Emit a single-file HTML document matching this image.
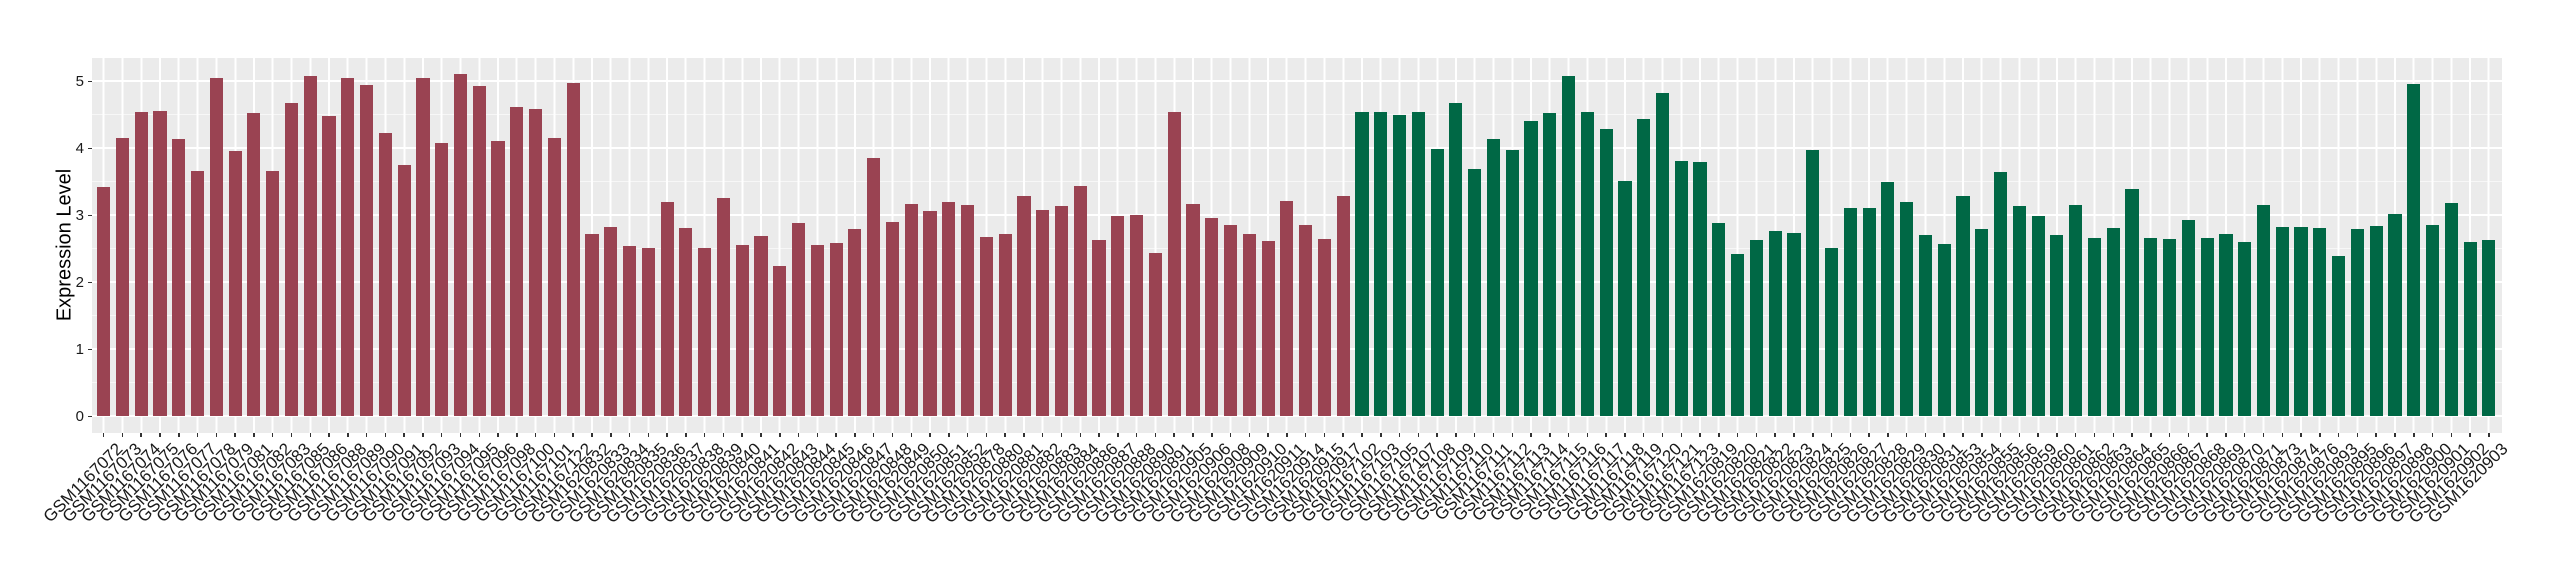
<!DOCTYPE html>
<html><head><meta charset="utf-8"><style>
*{margin:0;padding:0;box-sizing:border-box}
body{width:2560px;height:580px;background:#fff;position:relative;overflow:hidden;font-family:"Liberation Sans",sans-serif}
#panel{position:absolute;left:92.4px;top:58px;width:2409.6px;height:375px;background:#EBEBEB;overflow:hidden}
.hM{position:absolute;left:0;right:0;height:2px;background:#fff}
.hm{position:absolute;left:0;right:0;height:1px;background:#F7F7F7}
#bars{position:absolute;left:1.88px;top:0;bottom:0;display:flex}
.c{flex:none;width:18.796px;height:100%;display:flex;align-items:flex-end;justify-content:center;padding-bottom:16.6px;
background:linear-gradient(to right,transparent calc(50% - 1px),#fff calc(50% - 1px),#fff calc(50% + 1px),transparent calc(50% + 1px))}
.c i{display:block;width:13.16px;height:calc(var(--v) * 67px)}
.r i{background:#9A4352}
.g i{background:#006845}
#labs{position:absolute;left:94.28px;top:433px;display:flex}
.l{flex:none;width:18.796px;height:10px;position:relative}
.l::before{content:"";position:absolute;left:calc(50% - 0.75px);top:0;width:1.5px;height:4px;background:#333}
.l span{position:absolute;right:calc(50% - 10px);top:7px;font-size:17px;line-height:1;white-space:nowrap;color:#1a1a1a;transform-origin:right top;transform:rotate(-45deg)}
.yt{position:absolute;right:2476px;font-size:15px;line-height:1;color:#1a1a1a}
.ytk{position:absolute;left:88.4px;width:4px;height:1.5px;background:#333}
#ytitle{position:absolute;left:65px;top:245px;font-size:20px;transform:translate(-50%,-50%) rotate(-90deg);white-space:nowrap;color:#000}
</style></head><body>
<div id="panel">
<div class="hm" style="top:324.4px"></div>
<div class="hm" style="top:257.4px"></div>
<div class="hm" style="top:190.4px"></div>
<div class="hm" style="top:123.4px"></div>
<div class="hm" style="top:56.4px"></div>
<div class="hM" style="top:357.4px"></div>
<div class="hM" style="top:290.4px"></div>
<div class="hM" style="top:223.4px"></div>
<div class="hM" style="top:156.4px"></div>
<div class="hM" style="top:89.4px"></div>
<div class="hM" style="top:22.4px"></div>
<div id="bars">
<div class="c r" style="--v:3.42"><i></i></div><div class="c r" style="--v:4.15"><i></i></div><div class="c r" style="--v:4.54"><i></i></div><div class="c r" style="--v:4.56"><i></i></div><div class="c r" style="--v:4.14"><i></i></div><div class="c r" style="--v:3.66"><i></i></div><div class="c r" style="--v:5.05"><i></i></div><div class="c r" style="--v:3.96"><i></i></div><div class="c r" style="--v:4.53"><i></i></div><div class="c r" style="--v:3.67"><i></i></div><div class="c r" style="--v:4.68"><i></i></div><div class="c r" style="--v:5.08"><i></i></div><div class="c r" style="--v:4.48"><i></i></div><div class="c r" style="--v:5.05"><i></i></div><div class="c r" style="--v:4.94"><i></i></div><div class="c r" style="--v:4.23"><i></i></div><div class="c r" style="--v:3.75"><i></i></div><div class="c r" style="--v:5.05"><i></i></div><div class="c r" style="--v:4.08"><i></i></div><div class="c r" style="--v:5.11"><i></i></div><div class="c r" style="--v:4.93"><i></i></div><div class="c r" style="--v:4.11"><i></i></div><div class="c r" style="--v:4.62"><i></i></div><div class="c r" style="--v:4.59"><i></i></div><div class="c r" style="--v:4.15"><i></i></div><div class="c r" style="--v:4.98"><i></i></div>
<div class="c r" style="--v:2.72"><i></i></div><div class="c r" style="--v:2.82"><i></i></div><div class="c r" style="--v:2.55"><i></i></div><div class="c r" style="--v:2.52"><i></i></div><div class="c r" style="--v:3.20"><i></i></div><div class="c r" style="--v:2.81"><i></i></div><div class="c r" style="--v:2.51"><i></i></div><div class="c r" style="--v:3.26"><i></i></div><div class="c r" style="--v:2.56"><i></i></div><div class="c r" style="--v:2.69"><i></i></div><div class="c r" style="--v:2.24"><i></i></div><div class="c r" style="--v:2.89"><i></i></div><div class="c r" style="--v:2.56"><i></i></div><div class="c r" style="--v:2.59"><i></i></div><div class="c r" style="--v:2.80"><i></i></div><div class="c r" style="--v:3.86"><i></i></div><div class="c r" style="--v:2.90"><i></i></div><div class="c r" style="--v:3.17"><i></i></div><div class="c r" style="--v:3.07"><i></i></div><div class="c r" style="--v:3.20"><i></i></div><div class="c r" style="--v:3.16"><i></i></div>
<div class="c r" style="--v:2.68"><i></i></div><div class="c r" style="--v:2.72"><i></i></div><div class="c r" style="--v:3.29"><i></i></div><div class="c r" style="--v:3.08"><i></i></div><div class="c r" style="--v:3.14"><i></i></div><div class="c r" style="--v:3.44"><i></i></div>
<div class="c r" style="--v:2.63"><i></i></div><div class="c r" style="--v:2.99"><i></i></div><div class="c r" style="--v:3.01"><i></i></div><div class="c r" style="--v:2.44"><i></i></div><div class="c r" style="--v:4.55"><i></i></div>
<div class="c r" style="--v:3.17"><i></i></div><div class="c r" style="--v:2.96"><i></i></div><div class="c r" style="--v:2.86"><i></i></div><div class="c r" style="--v:2.72"><i></i></div><div class="c r" style="--v:2.62"><i></i></div><div class="c r" style="--v:3.22"><i></i></div><div class="c r" style="--v:2.86"><i></i></div><div class="c r" style="--v:2.65"><i></i></div><div class="c r" style="--v:3.29"><i></i></div>
<div class="c g" style="--v:4.55"><i></i></div><div class="c g" style="--v:4.55"><i></i></div><div class="c g" style="--v:4.50"><i></i></div><div class="c g" style="--v:4.55"><i></i></div><div class="c g" style="--v:3.99"><i></i></div><div class="c g" style="--v:4.68"><i></i></div><div class="c g" style="--v:3.69"><i></i></div><div class="c g" style="--v:4.14"><i></i></div><div class="c g" style="--v:3.98"><i></i></div><div class="c g" style="--v:4.41"><i></i></div><div class="c g" style="--v:4.53"><i></i></div><div class="c g" style="--v:5.08"><i></i></div><div class="c g" style="--v:4.55"><i></i></div><div class="c g" style="--v:4.29"><i></i></div><div class="c g" style="--v:3.51"><i></i></div><div class="c g" style="--v:4.44"><i></i></div><div class="c g" style="--v:4.82"><i></i></div><div class="c g" style="--v:3.81"><i></i></div><div class="c g" style="--v:3.80"><i></i></div>
<div class="c g" style="--v:2.89"><i></i></div><div class="c g" style="--v:2.42"><i></i></div><div class="c g" style="--v:2.63"><i></i></div><div class="c g" style="--v:2.77"><i></i></div><div class="c g" style="--v:2.74"><i></i></div><div class="c g" style="--v:3.98"><i></i></div><div class="c g" style="--v:2.51"><i></i></div><div class="c g" style="--v:3.11"><i></i></div><div class="c g" style="--v:3.11"><i></i></div><div class="c g" style="--v:3.50"><i></i></div><div class="c g" style="--v:3.20"><i></i></div><div class="c g" style="--v:2.71"><i></i></div><div class="c g" style="--v:2.57"><i></i></div>
<div class="c g" style="--v:3.29"><i></i></div><div class="c g" style="--v:2.80"><i></i></div><div class="c g" style="--v:3.65"><i></i></div><div class="c g" style="--v:3.14"><i></i></div>
<div class="c g" style="--v:2.99"><i></i></div><div class="c g" style="--v:2.71"><i></i></div><div class="c g" style="--v:3.15"><i></i></div><div class="c g" style="--v:2.67"><i></i></div><div class="c g" style="--v:2.81"><i></i></div><div class="c g" style="--v:3.39"><i></i></div><div class="c g" style="--v:2.67"><i></i></div><div class="c g" style="--v:2.65"><i></i></div><div class="c g" style="--v:2.93"><i></i></div><div class="c g" style="--v:2.66"><i></i></div><div class="c g" style="--v:2.72"><i></i></div><div class="c g" style="--v:2.61"><i></i></div><div class="c g" style="--v:3.15"><i></i></div>
<div class="c g" style="--v:2.82"><i></i></div><div class="c g" style="--v:2.82"><i></i></div><div class="c g" style="--v:2.81"><i></i></div>
<div class="c g" style="--v:2.39"><i></i></div><div class="c g" style="--v:2.80"><i></i></div><div class="c g" style="--v:2.84"><i></i></div><div class="c g" style="--v:3.02"><i></i></div><div class="c g" style="--v:4.96"><i></i></div>
<div class="c g" style="--v:2.86"><i></i></div><div class="c g" style="--v:3.18"><i></i></div><div class="c g" style="--v:2.61"><i></i></div><div class="c g" style="--v:2.63"><i></i></div>
</div>
</div>
<div id="labs">
<div class="l"><span>GSM1167072</span></div><div class="l"><span>GSM1167073</span></div><div class="l"><span>GSM1167074</span></div><div class="l"><span>GSM1167075</span></div><div class="l"><span>GSM1167076</span></div><div class="l"><span>GSM1167077</span></div><div class="l"><span>GSM1167078</span></div><div class="l"><span>GSM1167079</span></div><div class="l"><span>GSM1167081</span></div><div class="l"><span>GSM1167082</span></div><div class="l"><span>GSM1167083</span></div><div class="l"><span>GSM1167085</span></div><div class="l"><span>GSM1167086</span></div><div class="l"><span>GSM1167088</span></div><div class="l"><span>GSM1167089</span></div><div class="l"><span>GSM1167090</span></div><div class="l"><span>GSM1167091</span></div><div class="l"><span>GSM1167092</span></div><div class="l"><span>GSM1167093</span></div><div class="l"><span>GSM1167094</span></div><div class="l"><span>GSM1167095</span></div><div class="l"><span>GSM1167096</span></div><div class="l"><span>GSM1167098</span></div><div class="l"><span>GSM1167100</span></div><div class="l"><span>GSM1167101</span></div><div class="l"><span>GSM1167122</span></div>
<div class="l"><span>GSM1620832</span></div><div class="l"><span>GSM1620833</span></div><div class="l"><span>GSM1620834</span></div><div class="l"><span>GSM1620835</span></div><div class="l"><span>GSM1620836</span></div><div class="l"><span>GSM1620837</span></div><div class="l"><span>GSM1620838</span></div><div class="l"><span>GSM1620839</span></div><div class="l"><span>GSM1620840</span></div><div class="l"><span>GSM1620841</span></div><div class="l"><span>GSM1620842</span></div><div class="l"><span>GSM1620843</span></div><div class="l"><span>GSM1620844</span></div><div class="l"><span>GSM1620845</span></div><div class="l"><span>GSM1620846</span></div><div class="l"><span>GSM1620847</span></div><div class="l"><span>GSM1620848</span></div><div class="l"><span>GSM1620849</span></div><div class="l"><span>GSM1620850</span></div><div class="l"><span>GSM1620851</span></div><div class="l"><span>GSM1620852</span></div>
<div class="l"><span>GSM1620878</span></div><div class="l"><span>GSM1620880</span></div><div class="l"><span>GSM1620881</span></div><div class="l"><span>GSM1620882</span></div><div class="l"><span>GSM1620883</span></div><div class="l"><span>GSM1620884</span></div>
<div class="l"><span>GSM1620886</span></div><div class="l"><span>GSM1620887</span></div><div class="l"><span>GSM1620888</span></div><div class="l"><span>GSM1620890</span></div><div class="l"><span>GSM1620891</span></div>
<div class="l"><span>GSM1620905</span></div><div class="l"><span>GSM1620906</span></div><div class="l"><span>GSM1620908</span></div><div class="l"><span>GSM1620909</span></div><div class="l"><span>GSM1620910</span></div><div class="l"><span>GSM1620911</span></div><div class="l"><span>GSM1620914</span></div><div class="l"><span>GSM1620915</span></div><div class="l"><span>GSM1620917</span></div>
<div class="l"><span>GSM1167102</span></div><div class="l"><span>GSM1167103</span></div><div class="l"><span>GSM1167105</span></div><div class="l"><span>GSM1167107</span></div><div class="l"><span>GSM1167108</span></div><div class="l"><span>GSM1167109</span></div><div class="l"><span>GSM1167110</span></div><div class="l"><span>GSM1167111</span></div><div class="l"><span>GSM1167112</span></div><div class="l"><span>GSM1167113</span></div><div class="l"><span>GSM1167114</span></div><div class="l"><span>GSM1167115</span></div><div class="l"><span>GSM1167116</span></div><div class="l"><span>GSM1167117</span></div><div class="l"><span>GSM1167118</span></div><div class="l"><span>GSM1167119</span></div><div class="l"><span>GSM1167120</span></div><div class="l"><span>GSM1167121</span></div><div class="l"><span>GSM1167123</span></div>
<div class="l"><span>GSM1620819</span></div><div class="l"><span>GSM1620820</span></div><div class="l"><span>GSM1620821</span></div><div class="l"><span>GSM1620822</span></div><div class="l"><span>GSM1620823</span></div><div class="l"><span>GSM1620824</span></div><div class="l"><span>GSM1620825</span></div><div class="l"><span>GSM1620826</span></div><div class="l"><span>GSM1620827</span></div><div class="l"><span>GSM1620828</span></div><div class="l"><span>GSM1620829</span></div><div class="l"><span>GSM1620830</span></div><div class="l"><span>GSM1620831</span></div>
<div class="l"><span>GSM1620853</span></div><div class="l"><span>GSM1620854</span></div><div class="l"><span>GSM1620855</span></div><div class="l"><span>GSM1620856</span></div>
<div class="l"><span>GSM1620859</span></div><div class="l"><span>GSM1620860</span></div><div class="l"><span>GSM1620861</span></div><div class="l"><span>GSM1620862</span></div><div class="l"><span>GSM1620863</span></div><div class="l"><span>GSM1620864</span></div><div class="l"><span>GSM1620865</span></div><div class="l"><span>GSM1620866</span></div><div class="l"><span>GSM1620867</span></div><div class="l"><span>GSM1620868</span></div><div class="l"><span>GSM1620869</span></div><div class="l"><span>GSM1620870</span></div><div class="l"><span>GSM1620871</span></div>
<div class="l"><span>GSM1620873</span></div><div class="l"><span>GSM1620874</span></div><div class="l"><span>GSM1620876</span></div>
<div class="l"><span>GSM1620893</span></div><div class="l"><span>GSM1620895</span></div><div class="l"><span>GSM1620896</span></div><div class="l"><span>GSM1620897</span></div><div class="l"><span>GSM1620898</span></div>
<div class="l"><span>GSM1620900</span></div><div class="l"><span>GSM1620901</span></div><div class="l"><span>GSM1620902</span></div><div class="l"><span>GSM1620903</span></div>
</div>
<div class="yt" style="top:409px">0</div>
<div class="yt" style="top:342px">1</div>
<div class="yt" style="top:275px">2</div>
<div class="yt" style="top:208px">3</div>
<div class="yt" style="top:141px">4</div>
<div class="yt" style="top:74px">5</div>
<div class="ytk" style="top:415.6px"></div>
<div class="ytk" style="top:348.6px"></div>
<div class="ytk" style="top:281.6px"></div>
<div class="ytk" style="top:214.6px"></div>
<div class="ytk" style="top:147.6px"></div>
<div class="ytk" style="top:80.6px"></div>
<div id="ytitle">Expression Level</div>
</body></html>
